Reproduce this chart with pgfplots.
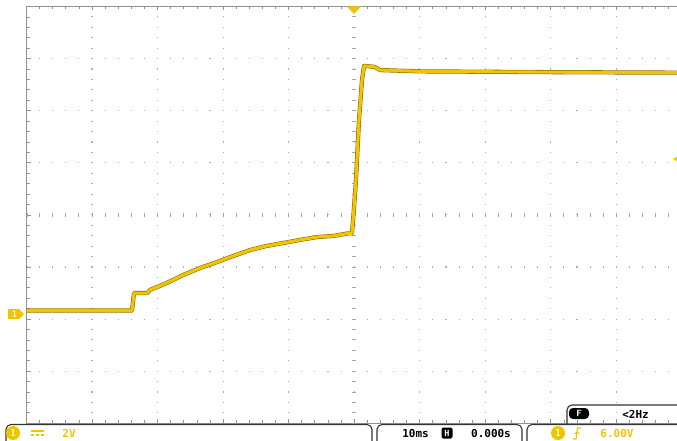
\documentclass[border=0pt]{standalone}
\usepackage{pgfplots}
\usepackage{pgfplotstable}
\pgfplotsset{compat=1.18}
\usepackage{fontspec}
\setmainfont{DejaVu Sans}
\setmonofont{DejaVu Sans Mono}
\definecolor{scopeyel}{RGB}{242,196,0}
\definecolor{scopedark}{RGB}{130,105,0}
\definecolor{gridgray}{RGB}{175,175,175}
\definecolor{bordergray}{RGB}{145,145,145}
\pgfplotstableread{
t V
-50.0 0.13
-33.9 0.13
-33.6 0.80
-31.6 0.80
-31.15 0.92
-28.56 1.19
-26.12 1.49
-23.53 1.76
-20.93 1.99
-18.49 2.22
-15.90 2.45
-13.31 2.61
-10.86 2.72
-8.27 2.84
-5.68 2.95
-3.23 2.99
-0.95 3.09
-0.34 3.09
-0.11 3.80
0.27 5.14
0.73 7.44
1.19 8.98
1.50 9.52
3.17 9.48
3.94 9.36
10.04 9.31
30.0 9.28
50.0 9.26
}\trace
\begin{document}
\begin{tikzpicture}
\path[use as bounding box] (0pt,0pt) rectangle (677pt,-441pt);
\begin{axis}[
  at={(26.5pt,-423.3pt)}, anchor=south west,
  scale only axis, width=655.4pt, height=416.8pt,
  xmin=-50, xmax=50, ymin=-4.2, ymax=11.8,
  xtick={-50,-40,...,50}, ytick={-4.2,-2.2,...,11.8},
  minor x tick num=4, minor y tick num=4,
  xticklabels={}, yticklabels={},
  tick align=inside,
  major tick length=4pt, minor tick length=3pt,
  tick style={draw=bordergray, line width=0.8pt},
  grid=major,
  major x grid style={draw=gridgray, line width=1.1pt, dash pattern=on 1.1pt off 9.32pt, dash phase=0.55pt},
  major y grid style={draw=gridgray, line width=1.1pt, dash pattern=on 1.1pt off 12.008pt, dash phase=0.55pt},
  axis line style={draw=bordergray, line width=1.4pt},
  clip=true,
]
\draw[draw=bordergray!80, line width=4.5pt, dash pattern=on 1pt off 9.42pt, dash phase=0.5pt] (axis cs:0,-4.2) -- (axis cs:0,11.8);
\draw[draw=bordergray!80, line width=4.5pt, dash pattern=on 1pt off 12.108pt, dash phase=0.5pt] (axis cs:-50,3.8) -- (axis cs:50,3.8);
\addplot[scopedark, line width=4.2pt, line join=round, mark=none] table[x=t,y=V] {\trace};
\addplot[scopeyel, line width=3.1pt, line join=round, mark=none] table[x=t,y=V] {\trace};
\end{axis}
\begin{scope}[x=1pt,y=-1pt]
% markers
\fill[scopeyel] (347,6.5) -- (361,6.5) -- (354,14) -- cycle;
\fill[scopeyel] (8,309) -- (19,309) -- (24,314) -- (19,319) -- (8,319) -- cycle;
\node[text=white, font=\sffamily\bfseries\fontsize{9}{9}\selectfont, inner sep=0pt] at (14.5,314) {1};
\fill[scopeyel] (673,159) -- (680,155) -- (680,163) -- cycle;
% status boxes
\draw[black!80, line width=1.1pt, rounded corners=5pt] (6,450) -- (6,424.5) -- (372,424.5) -- (372,450);
\draw[black!80, line width=1.1pt, rounded corners=5pt] (377,450) -- (377,424.5) -- (522,424.5) -- (522,450);
\draw[black!80, line width=1.1pt, rounded corners=5pt] (527,450) -- (527,424.5) -- (690,424.5);
\draw[black!80, line width=1.1pt, rounded corners=5pt] (567,424) -- (567,405) -- (690,405);
% channel 1
\fill[scopeyel] (13,433) circle (7);
\node[text=white, font=\sffamily\bfseries\fontsize{10}{10}\selectfont, inner sep=0pt] at (13,433) {1};
\draw[scopeyel, line width=1.3pt] (31,431) -- (44,431);
\draw[scopeyel, line width=1.3pt, dash pattern=on 3pt off 2pt] (31,435) -- (44,435);
\node[text=scopeyel, font=\ttfamily\bfseries\fontsize{11}{11}\selectfont, inner sep=0pt] at (69,433) {2V};
% timebase
\node[text=black, font=\ttfamily\bfseries\fontsize{11}{11}\selectfont, inner sep=0pt] at (415.5,433) {10ms};
\fill[black, rounded corners=2pt] (441.5,427.5) rectangle (452.5,438.5);
\node[text=white, font=\ttfamily\bfseries\fontsize{8.5}{8.5}\selectfont, inner sep=0pt] at (447,433) {H};
\node[text=black, font=\ttfamily\bfseries\fontsize{11}{11}\selectfont, inner sep=0pt] at (491,433) {0.000s};
% trigger
\fill[scopeyel] (558,433) circle (7);
\node[text=white, font=\sffamily\bfseries\fontsize{10}{10}\selectfont, inner sep=0pt] at (558,433) {1};
\draw[scopeyel, line width=1.1pt] (573,439) -- (576,439) -- (577.5,428) -- (581,428);
\draw[scopeyel, line width=1pt] (574.5,434) -- (577,432) -- (579.5,434);
\node[text=scopeyel, font=\ttfamily\bfseries\fontsize{11}{11}\selectfont, inner sep=0pt] at (617,433) {6.00V};
% frequency
\fill[black, rounded corners=4pt] (569,408) rectangle (589,419);
\node[text=white, font=\sffamily\bfseries\fontsize{9}{9}\selectfont, inner sep=0pt] at (579,413.5) {F};
\node[text=black, font=\ttfamily\bfseries\fontsize{11}{11}\selectfont, inner sep=0pt] at (635.5,414) {<2Hz};
\end{scope}
\end{tikzpicture}
\end{document}
